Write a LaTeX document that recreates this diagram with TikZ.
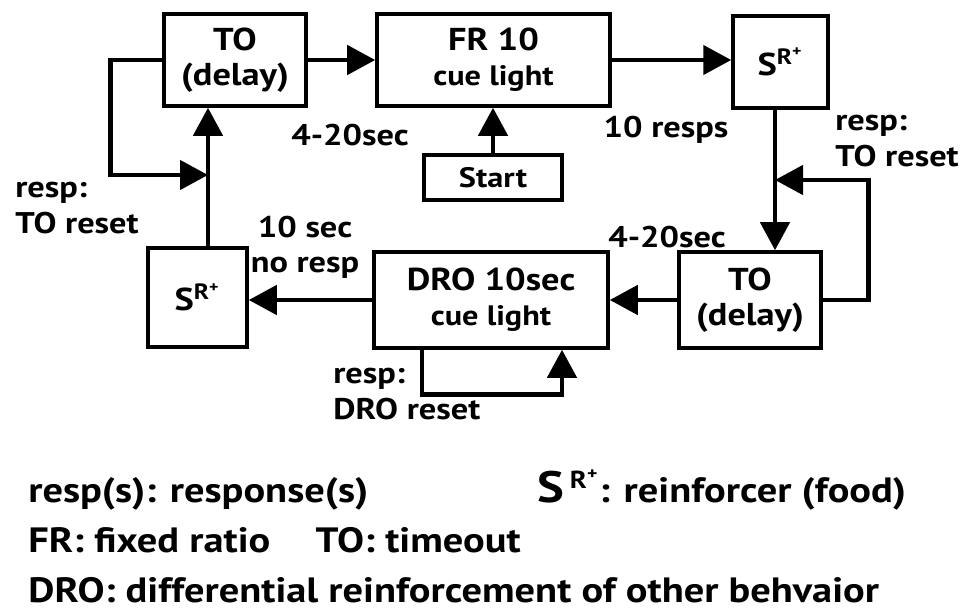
\documentclass[tikz,border=0pt]{standalone}
\usepackage{fontspec}
\setmainfont[FakeStretch=1.15]{PT Sans}
\usepackage{tikz}
\usetikzlibrary{
  positioning,
  calc,
  arrows.meta
}
\newcommand{\srplus}{S\textsuperscript{R\textsuperscript{+}}}

\begin{document}
\begin{tikzpicture}[
    stage/.style={draw, line width=2pt, align=center, inner sep=0pt,
                  font=\bfseries\fontsize{18}{20}\selectfont},
    small/.style={font=\bfseries\fontsize{16}{18}\selectfont},
    lbl/.style={font=\bfseries\fontsize{17}{20}\selectfont,
                align=left, inner sep=0pt},
    arr/.style={line width=2.6pt, -{Triangle[length=0.56cm,width=0.58cm]}},
    legend/.style={font=\bfseries\fontsize{20}{22}\selectfont,
                   anchor=base west, inner sep=0pt},
  ]
  \useasboundingbox (0,0) rectangle (19.48,12.26);

  % upper row
  \node[stage, minimum width=2.84cm, minimum height=1.84cm] (to1) at (4.70,11.06)
    {TO\\(delay)};
  \node[stage, minimum width=4.66cm, minimum height=1.84cm] (fr) at (9.87,11.06)
    {FR 10\\{\fontsize{16}{18}\selectfont cue light}};
  \node[stage, minimum width=1.90cm, minimum height=1.84cm] (sr1) at (15.61,11.02)
    {\srplus};
  \node[stage, minimum width=2.76cm, minimum height=0.90cm, small] (start) at (9.86,8.71)
    {Start};

  % lower row
  \node[stage, minimum width=1.98cm, minimum height=1.98cm] (sr2) at (3.95,6.31)
    {\srplus};
  \node[stage, minimum width=4.68cm, minimum height=1.92cm] (dro) at (9.82,6.26)
    {DRO 10sec\\{\fontsize{16}{18}\selectfont cue light}};
  \node[stage, minimum width=2.84cm, minimum height=1.92cm] (to2) at (15.00,6.26)
    {TO\\(delay)};

  % junctions of the reset loops
  \coordinate (jl) at (4.16,8.76);
  \coordinate (jr) at (15.50,8.66);

  % connectors
  \draw[arr] (to1.east) -- (fr.west);
  \draw[arr] (fr.east) -- (fr.east -| sr1.west);
  \draw[arr] (start.north) -- (start.north |- fr.south);
  \draw[arr] ([xshift=-0.11cm]sr1.south) -- ([xshift=-0.11cm]sr1.south |- to2.north);
  \draw[arr] (to2.east) -- ++(0.92,0) |- (jr);
  \draw[arr] (to2.west) -- (to2.west -| dro.east);
  \draw[arr] (dro.west) -- (dro.west -| sr2.east);
  \draw[arr] ([xshift=0.21cm]sr2.north) -- ([xshift=0.21cm]sr2.north |- to1.south);
  \draw[arr] (to1.west) -- ++(-1.04,0) |- (jl);
  \draw[arr] ([xshift=-1.38cm]dro.south) -- ++(0,-0.9) -| ([xshift=1.42cm]dro.south);

  % labels
  \node[lbl] (t1) at (7.00,9.56) {4-20sec};
  \node[lbl] (n1) at (13.32,9.66) {10 resps};
  \node[lbl, anchor=west] (r1) at (16.70,9.44) {resp:\\TO reset};
  \node[lbl] (t2) at (13.34,7.52) {4-20sec};
  \node[lbl, anchor=west] (r2) at (0.30,8.10) {resp:\\TO reset};
  \node[lbl, align=center] (nr) at (6.10,7.32) {10 sec\\no resp};
  \node[lbl, anchor=west] (r3) at (6.66,4.38) {resp:\\DRO reset};

  % legend
  \node[legend] (k1) at (0.56,2.22) {resp(s): response(s)};
  \node[legend] (k2) at (10.74,2.22)
    {{\fontsize{25}{27}\selectfont S}\,\textsuperscript{R\textsuperscript{+}}: reinforcer (food)};
  \node[legend] (k3) at (0.56,1.22) {FR: fixed ratio\quad\ TO: timeout};
  \node[legend] (k4) at (0.56,0.22) {DRO: differential reinforcement of other behvaior};
\end{tikzpicture}
\end{document}
